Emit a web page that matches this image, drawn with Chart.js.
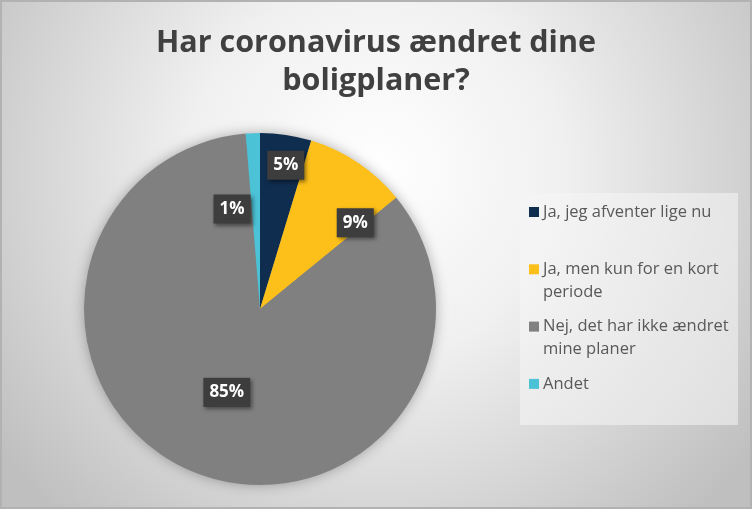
<!DOCTYPE html>
<html>
<head>
<meta charset="utf-8">
<script src="https://cdn.jsdelivr.net/npm/chart.js@4/dist/chart.umd.min.js"></script>
<style>
  html, body { margin: 0; padding: 0; }
  #wrap { width: 752px; height: 509px; position: relative; }
</style>
</head>
<body>
<div id="wrap"><canvas id="grafica"></canvas></div>
<script>
    const titel = ["Har coronavirus ændret dine", "boligplaner?"];
    const svar = [
        ["Ja, jeg afventer lige nu"],
        ["Ja, men kun for en kort", "periode"],
        ["Nej, det har ikke ændret", "mine planer"],
        ["Andet"]
    ];
    const andele = [4.7, 9.4, 84.6, 1.3];
    const farver = ["#0f2d4e", "#fdc01a", "#808080", "#4bc2d6"];

    // placering af etiketter: drejning (grader) og radius-andel
    const etiketDrej = [1.7, 14, -1.3, -13.3];
    const etiketRadius = [0.83, 0.73, 0.51, 0.59];

    const baggrund = {
        id: "baggrund",
        beforeDraw(chart) {
            const ctx = chart.ctx;
            const w = chart.width, h = chart.height;
            ctx.save();
            const g = ctx.createRadialGradient(376, 170, 0, 376, 170, 470);
            g.addColorStop(0, "#ffffff");
            g.addColorStop(0.4, "#f0f0f0");
            g.addColorStop(1, "#bfbfbf");
            ctx.fillStyle = g;
            ctx.fillRect(0, 0, w, h);
            ctx.strokeStyle = "#b2b2b2";
            ctx.lineWidth = 2;
            ctx.strokeRect(1, 1, w - 2, h - 2);

            // titel
            ctx.fillStyle = "#404040";
            ctx.font = "bold 30.5px 'Open Sans'";
            ctx.textAlign = "center";
            ctx.textBaseline = "alphabetic";
            titel.forEach(function (linje, i) {
                ctx.fillText(linje, w / 2, 52 + i * 38);
            });
            ctx.restore();
        },
        beforeDatasetsDraw(chart) {
            const arc = chart.getDatasetMeta(0).data[0];
            if (!arc) return;
            const ctx = chart.ctx;
            ctx.save();
            ctx.shadowColor = "rgba(0,0,0,0.35)";
            ctx.shadowBlur = 14;
            ctx.fillStyle = "#808080";
            ctx.beginPath();
            ctx.arc(arc.x, arc.y, arc.outerRadius - 1, 0, Math.PI * 2);
            ctx.fill();
            ctx.restore();
        }
    };

    const etiketter = {
        id: "etiketter",
        afterDatasetsDraw(chart) {
            const ctx = chart.ctx;
            const meta = chart.getDatasetMeta(0);
            const total = andele.reduce((a, b) => a + b, 0);
            ctx.save();
            ctx.font = "bold 17px 'Open Sans'";
            ctx.textAlign = "center";
            ctx.textBaseline = "middle";
            meta.data.forEach(function (el, i) {
                const midt = (el.startAngle + el.endAngle) / 2 + etiketDrej[i] * Math.PI / 180;
                const r = el.outerRadius * etiketRadius[i];
                const x = el.x + Math.cos(midt) * r;
                const y = el.y + Math.sin(midt) * r;
                const tekst = Math.round(andele[i] / total * 100) + "%";
                const bw = ctx.measureText(tekst).width + 12;
                const bh = 29;
                ctx.save();
                ctx.shadowColor = "rgba(0,0,0,0.45)";
                ctx.shadowBlur = 4;
                ctx.shadowOffsetX = 2;
                ctx.shadowOffsetY = 2;
                ctx.fillStyle = "#3d3d3d";
                ctx.fillRect(x - bw / 2, y - bh / 2, bw, bh);
                ctx.restore();
                ctx.fillStyle = "#ffffff";
                ctx.fillText(tekst, x, y);
            });
            ctx.restore();
        }
    };

    const forklaring = {
        id: "forklaring",
        afterDraw(chart) {
            const ctx = chart.ctx;
            ctx.save();
            ctx.fillStyle = "rgba(245,245,245,0.55)";
            ctx.fillRect(520, 193, 218, 232);
            ctx.font = "16.5px 'Open Sans'";
            ctx.textBaseline = "middle";
            const labels = chart.data.labels;
            const bg = chart.data.datasets[0].backgroundColor;
            labels.forEach(function (lab, i) {
                const y0 = 212 + i * 57.3;
                ctx.fillStyle = bg[i];
                ctx.fillRect(529, y0 - 5, 10, 10);
                ctx.fillStyle = "#595959";
                lab.forEach(function (linje, j) {
                    ctx.fillText(linje, 543, y0 + j * 22.5);
                });
            });
            ctx.restore();
        }
    };

    let ctx = document.getElementById("grafica").getContext("2d");
    let miGrafica = new Chart(ctx, {
        type: "pie",
        data: {
            labels: svar,
            datasets: [{
                data: andele,
                backgroundColor: farver,
                borderWidth: 0
            }]
        },
        options: {
            responsive: true,
            maintainAspectRatio: false,
            animation: false,
            layout: {
                padding: { left: 84, right: 316, top: 133, bottom: 24 }
            },
            plugins: {
                legend: { display: false },
                tooltip: { enabled: false },
                title: { display: false }
            }
        },
        plugins: [baggrund, etiketter, forklaring]
    });
</script>
</body>
</html>
